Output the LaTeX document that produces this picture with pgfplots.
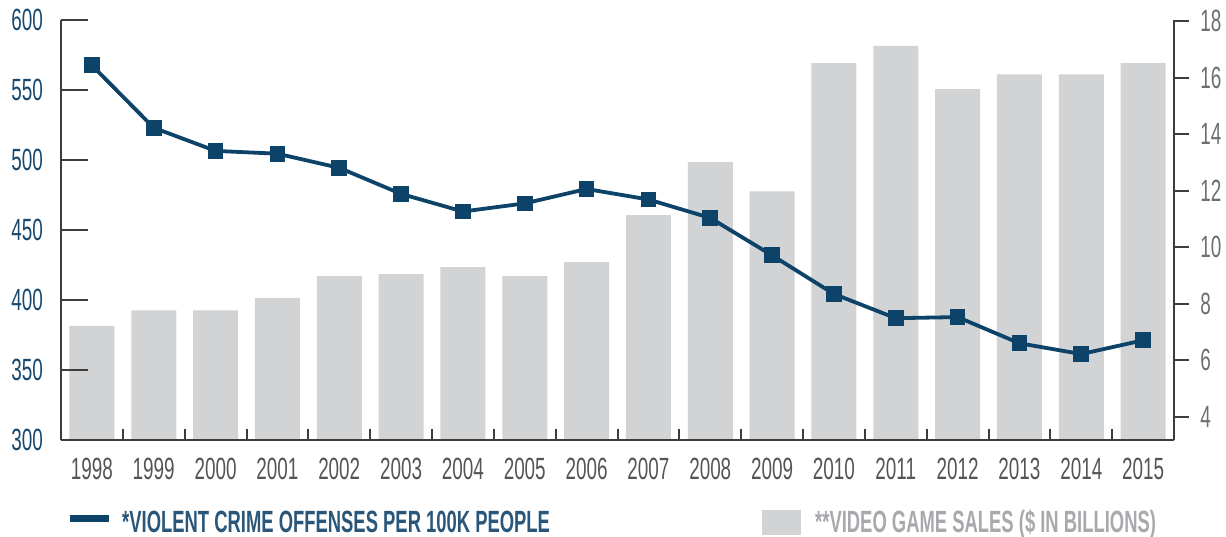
\documentclass[border=0pt]{standalone}
\usepackage{pgfplots}
\usepackage{pgfplotstable}
\pgfplotsset{compat=1.18}
\usepackage{fontspec}
\setmainfont{Liberation Sans}[FakeStretch=0.615]
\newfontfamily\legfont{Liberation Sans}[FakeStretch=0.6]

\definecolor{crimeblue}{HTML}{0D4269}
\definecolor{labelblue}{HTML}{17496F}
\definecolor{legblue}{HTML}{2A5679}
\definecolor{bargray}{HTML}{D1D3D4}
\definecolor{leggray}{HTML}{A7A9AC}
\definecolor{axisgray}{HTML}{3D3D3D}
\definecolor{yeargray}{HTML}{555555}
\definecolor{rightgray}{HTML}{6D6E71}

\newcommand{\tickfont}{\fontsize{30.7}{34}\selectfont}

\pgfplotstableread{
x crime sales
0  567.6 7.22
1  523.0 7.77
2  506.5 7.77
3  504.5 8.21
4  494.4 8.98
5  475.8 9.05
6  463.2 9.30
7  469.0 8.98
8  479.3 9.47
9  471.8 11.14
10 458.6 13.01
11 431.9 11.98
12 404.3 16.51
13 387.0 17.12
14 387.8 15.59
15 369.1 16.12
16 361.4 16.12
17 371.2 16.51
}\data

\begin{document}
\begin{tikzpicture}
% page = 1226 x 536, axis box from pixel (61,440) to (1174,20)
\path[use as bounding box] (-61pt,-96pt) rectangle (1165pt,440pt);

\pgfplotsset{
  common/.style={
    scale only axis,
    width=1113pt, height=420pt,
    xmin=-0.5, xmax=17.5,
    axis line style={draw=axisgray, line width=2pt},
    tick style={draw=axisgray, line width=2pt},
    tick label style={font=\tickfont, inner sep=0pt},
    /pgf/number format/assume math mode=true,
  },
}

% video game sales, right axis
\begin{axis}[
    common,
    axis y line*=right,
    axis x line=none,
    ymin=3.18, ymax=18.04,
    ytick={4,6,...,18},
    tick align=outside,
    ytick style={/pgfplots/major tick length=15pt},
    yticklabel style={color=rightgray, anchor=west, xshift=22pt},
]
\addplot[ybar, bar width=45pt, bar shift=0pt, fill=bargray, draw=none]
    table[x=x, y=sales] {\data};
\end{axis}

% violent crime, left axis
\begin{axis}[
    common,
    axis y line*=left,
    axis x line*=bottom,
    ymin=300, ymax=600,
    ytick={300,350,...,600},
    tick align=inside,
    ytick style={/pgfplots/major tick length=27pt},
    yticklabel style={color=labelblue, anchor=east, xshift=-18pt},
    xtick={0,...,17},
    xticklabels={1998,1999,2000,2001,2002,2003,2004,2005,2006,2007,2008,2009,2010,2011,2012,2013,2014,2015},
    minor xtick={0.5,1.5,...,16.5},
    xtick style={/pgfplots/major tick length=0pt, /pgfplots/minor tick length=11pt},
    xticklabel style={color=yeargray, anchor=north, yshift=-18pt},
    clip=false,
]
\addplot[color=crimeblue, line width=3.8pt, mark=square*, mark size=6pt,
    mark options={solid}]
    table[x=x, y=crime] {\data};
\end{axis}

% legend
\draw[crimeblue, line width=7pt] (9pt,-78pt) -- (48pt,-78pt);
\node[anchor=base west, inner sep=0pt, text=legblue, font=\legfont\bfseries\tickfont]
    at (61pt,-92pt) {*VIOLENT CRIME OFFENSES PER 100K PEOPLE};
\fill[bargray] (701pt,-95pt) rectangle (740pt,-70pt);
\node[anchor=base west, inner sep=0pt, text=leggray, font=\legfont\bfseries\tickfont]
    at (754pt,-92pt) {**VIDEO GAME SALES (\$ IN BILLIONS)};
\end{tikzpicture}
\end{document}
